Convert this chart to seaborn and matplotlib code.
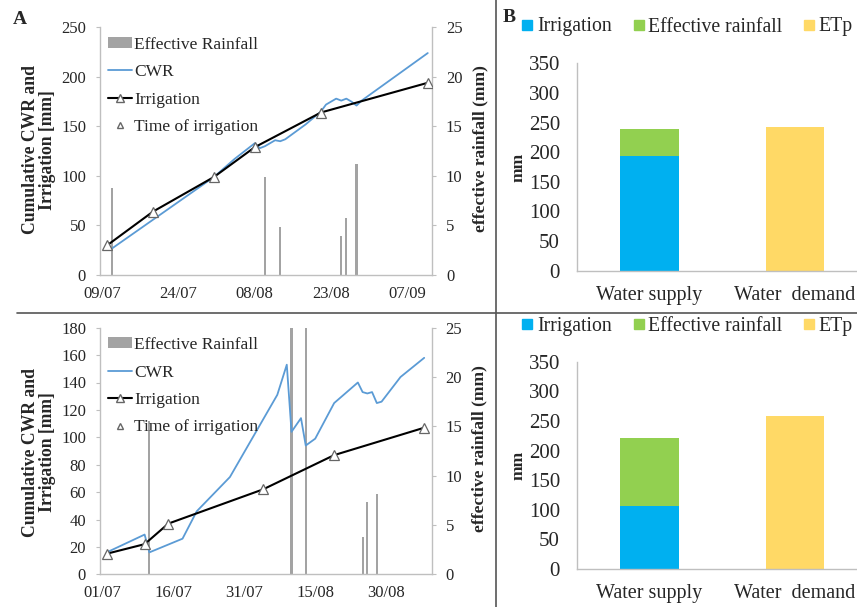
import pandas as pd
import matplotlib
matplotlib.use("Agg")
import matplotlib.pyplot as plt
import matplotlib.dates as mdates
from matplotlib.lines import Line2D
from matplotlib.patches import Patch
import seaborn as sns

# ---------------- Season A (upper row) ----------------
a_cwr_dates = ["2014-07-11", "2014-07-31", "2014-08-04", "2014-08-08", "2014-08-09",
               "2014-08-10", "2014-08-12", "2014-08-13", "2014-08-14", "2014-08-18",
               "2014-08-21", "2014-08-22", "2014-08-24", "2014-08-25", "2014-08-26",
               "2014-08-27", "2014-08-28", "2014-08-29", "2014-09-11"]
a_cwr = [27, 99, 117, 133, 128, 130, 136, 135, 137, 152, 165, 172, 178, 176, 178,
         175, 171, 176, 224]
a_irr_dates = ["2014-07-10", "2014-07-19", "2014-07-31", "2014-08-08", "2014-08-21",
               "2014-09-11"]
a_irr = [30, 64, 99, 129, 164, 194]
a_rain_dates = ["2014-07-11", "2014-08-10", "2014-08-13", "2014-08-25", "2014-08-26",
                "2014-08-28"]
a_rain = [8.8, 9.9, 4.8, 3.9, 5.8, 11.2]
a_ticks = ["2014-07-09", "2014-07-24", "2014-08-08", "2014-08-23", "2014-09-07"]
a_xlim = ["2014-07-08 14:00", "2014-09-11 20:00"]

# ---------------- Season B (lower row) ----------------
b_cwr_dates = ["2015-07-02", "2015-07-10", "2015-07-11", "2015-07-18", "2015-07-21",
               "2015-07-28", "2015-08-03", "2015-08-07", "2015-08-09", "2015-08-10",
               "2015-08-12", "2015-08-13", "2015-08-15", "2015-08-19", "2015-08-24",
               "2015-08-25", "2015-08-26", "2015-08-27", "2015-08-28", "2015-08-29",
               "2015-09-02", "2015-09-07"]
b_cwr = [16, 29, 16, 26, 46, 71, 107, 131, 153, 104, 114, 94, 99, 125, 140, 133, 132,
         133, 125, 126, 144, 158]
b_irr_dates = ["2015-07-02", "2015-07-10", "2015-07-15", "2015-08-04", "2015-08-19",
               "2015-09-07"]
b_irr = [15, 22, 37, 62, 87, 107]
b_rain_dates = ["2015-07-11", "2015-08-10", "2015-08-13", "2015-08-25", "2015-08-26",
                "2015-08-28"]
b_rain = [15.5, 40, 40, 3.8, 7.3, 8.1]
b_ticks = ["2015-07-01", "2015-07-16", "2015-07-31", "2015-08-15", "2015-08-30"]
b_xlim = ["2015-06-30 14:00", "2015-09-08 14:00"]

# ---------------- Seasonal water balance ----------------
bar_cats = ["Water supply", "Water  demand"]
a_supply_irr, a_supply_rain, a_etp = 194, 45, 242
b_supply_irr, b_supply_rain, b_etp = 107, 115, 258

C_CWR = "#5b9bd5"
C_RAIN = "#a3a3a3"
C_IRR = "#00b0f0"
C_EFF = "#92d050"
C_ETP = "#ffd966"
C_AXIS = "#bfbfbf"
C_TEXT = "#262626"

sns.set_theme(style="white")
plt.rcParams["font.family"] = ["Liberation Serif", "DejaVu Serif"]
plt.rcParams["text.color"] = C_TEXT
plt.rcParams["axes.labelcolor"] = C_TEXT
plt.rcParams["xtick.color"] = C_TEXT
plt.rcParams["ytick.color"] = C_TEXT

W, H = 857, 607
fig = plt.figure(figsize=(W / 100, H / 100), dpi=100)


def px_axes(left, top, right, bottom):
    return fig.add_axes([left / W, 1 - bottom / H, (right - left) / W, (bottom - top) / H])


def style_spines(ax, sides):
    for s in ["left", "right", "top", "bottom"]:
        ax.spines[s].set_visible(s in sides)
        ax.spines[s].set_color(C_AXIS)
        ax.spines[s].set_linewidth(1.0)


def timeline(rect, cwr_d, cwr_v, irr_d, irr_v, rain_d, rain_v, ticks, xlim, ymax, ystep,
             ylab_y, rlab_y):
    ax = px_axes(*rect)
    ax2 = ax.twinx()
    ax.set_zorder(ax2.get_zorder() + 1)
    ax.patch.set_visible(False)

    # daily effective rainfall on the secondary axis
    ax2.bar(pd.to_datetime(rain_d), rain_v, width=0.45, color=C_RAIN, linewidth=0)
    ax2.set_ylim(0, 25)
    ax2.set_yticks(range(0, 26, 5))

    # cumulative crop water requirement and irrigation
    sns.lineplot(x=pd.to_datetime(cwr_d), y=cwr_v, ax=ax, color=C_CWR, linewidth=1.3)
    sns.lineplot(x=pd.to_datetime(irr_d), y=irr_v, ax=ax, color="black", linewidth=1.5,
                 marker="^", markersize=7, markerfacecolor="white",
                 markeredgecolor="#666666", markeredgewidth=0.9)

    ax.set_xlim(pd.Timestamp(xlim[0]), pd.Timestamp(xlim[1]))
    ax.set_ylim(0, ymax)
    ax.set_yticks(range(0, ymax + 1, ystep))
    ax.set_xticks(pd.to_datetime(ticks))
    ax.xaxis.set_major_formatter(mdates.DateFormatter("%d/%m"))
    ax.set_xlabel("")

    style_spines(ax, ["left", "bottom"])
    style_spines(ax2, ["right"])
    for a in (ax, ax2):
        a.tick_params(axis="both", length=3, width=0.8, color=C_AXIS, labelsize=12, pad=7)
    ax.tick_params(axis="x", pad=5)

    ax.set_ylabel("Cumulative CWR and\nIrrigation [mm]", fontsize=12.7, fontweight="bold",
                  linespacing=1.0, va="center")
    ax.yaxis.set_label_coords(-0.184, ylab_y)
    ax2.set_ylabel("effective rainfall (mm)", fontsize=12.5, fontweight="bold", va="center",
                   rotation=90)
    ax2.yaxis.set_label_coords(1.145, rlab_y)

    handles = [
        Patch(facecolor=C_RAIN, edgecolor="none"),
        Line2D([], [], color=C_CWR, linewidth=1.3),
        Line2D([], [], color="black", linewidth=1.5, marker="^", markersize=6,
               markerfacecolor="white", markeredgecolor="#666666"),
        Line2D([], [], linestyle="none", marker="^", markersize=4.5,
               markerfacecolor="white", markeredgecolor="#666666"),
    ]
    labels = ["Effective Rainfall", "CWR", "Irrigation", "Time of irrigation"]
    ax.legend(handles, labels, loc="upper left", bbox_to_anchor=(0.025, 0.962),
              frameon=False, fontsize=12.5, handlelength=1.35, handletextpad=0.15,
              labelspacing=0.66, borderpad=0, borderaxespad=0, handleheight=0.6)
    return ax


def balance(rect, irr, rain, etp):
    ax = px_axes(*rect)
    sns.barplot(x=bar_cats, y=[irr + rain, etp], hue=bar_cats, order=bar_cats,
                hue_order=bar_cats, palette=[C_EFF, C_ETP], width=0.4, saturation=1,
                legend=False, ax=ax, linewidth=0)
    sns.barplot(x=[bar_cats[0]], y=[irr], order=bar_cats, color=C_IRR, width=0.4,
                saturation=1, ax=ax, linewidth=0)
    ax.set_xlim(-0.5, 1.5)
    ax.set_ylim(0, 350)
    ax.set_yticks(range(0, 351, 50))
    style_spines(ax, ["left", "bottom"])
    ax.tick_params(axis="y", length=3, width=0.8, color=C_AXIS, labelsize=15, pad=9)
    ax.tick_params(axis="x", length=0, labelsize=14.5, pad=11)
    ax.set_xticks([0.5], minor=True)
    ax.tick_params(axis="x", which="minor", length=4, width=0.8, color=C_AXIS)
    ax.set_xlabel("")
    ax.set_ylabel("mm", fontsize=12.5, fontweight="bold", va="center")
    ax.yaxis.set_label_coords(-0.2, 0.5)
    return ax


timeline((100, 27.3, 432, 275), a_cwr_dates, a_cwr, a_irr_dates, a_irr, a_rain_dates,
         a_rain, a_ticks, a_xlim, 250, 50, 0.505, 0.509)
timeline((100, 327.7, 431.7, 574.3), b_cwr_dates, b_cwr, b_irr_dates, b_irr, b_rain_dates,
         b_rain, b_ticks, b_xlim, 180, 20, 0.494, 0.51)
balance((576.7, 63.3, 867.8, 270.7), a_supply_irr, a_supply_rain, a_etp)
balance((576.7, 361.7, 867.8, 569), b_supply_irr, b_supply_rain, b_etp)

# legends of the water balance panels
bar_handles = [Line2D([], [], linestyle="none", marker="s", markersize=7, color=c)
               for c in (C_IRR, C_EFF, C_ETP)]
bar_labels = ["Irrigation", "Effective rainfall", "ETp"]
for ycen in (27, 326.7):
    fig.legend(bar_handles, bar_labels, loc="center left",
               bbox_to_anchor=(522 / W, 1 - ycen / H), ncol=3, frameon=False,
               fontsize=14.2, handlelength=0.55, handletextpad=0.2, columnspacing=1.1,
               borderpad=0, borderaxespad=0)

# panel letters and frame lines
fig.text(13 / W, 1 - 19 / H, "A", fontsize=14, fontweight="bold", va="center", ha="left")
fig.text(503 / W, 1 - 17 / H, "B", fontsize=14, fontweight="bold", va="center", ha="left")
fig.add_artist(Line2D([17 / W, 1], [1 - 313 / H] * 2, color="#555555", linewidth=1.2,
                      transform=fig.transFigure))
fig.add_artist(Line2D([496 / W] * 2, [0, 1], color="#555555", linewidth=1.2,
                      transform=fig.transFigure))

fig.savefig("out.png", dpi=100)
